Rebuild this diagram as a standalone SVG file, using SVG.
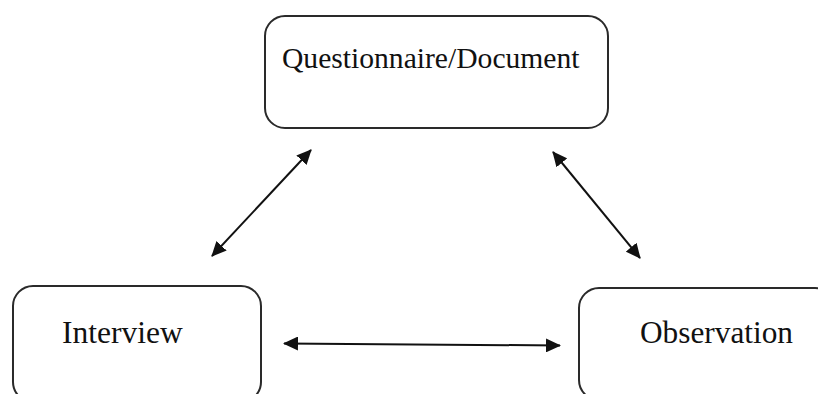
<svg xmlns="http://www.w3.org/2000/svg" width="818" height="394" viewBox="0 0 818 394">
<defs>
<style>
.box{fill:#fff;stroke:#2a2a2a;stroke-width:2}
.lbl{font-family:"Liberation Serif","Times New Roman",serif;fill:#111}
.conn{stroke:#111;stroke-width:2;fill:none;marker-start:url(#ah);marker-end:url(#ah)}
</style>
<marker id="ah" viewBox="0 0 15 14" refX="14" refY="7" markerWidth="15" markerHeight="14" markerUnits="userSpaceOnUse" orient="auto-start-reverse">
<path d="M0,0 L15,7 L0,14 Z" fill="#111"/>
</marker>
</defs>
<rect width="818" height="394" fill="#fff"/>
<g id="questionnaire">
<rect class="box" x="265" y="16" width="343" height="112" rx="20"/>
<text class="lbl" x="282" y="68" font-size="29.6">Questionnaire/Document</text>
</g>
<g id="interview">
<rect class="box" x="13" y="286" width="248" height="116" rx="20"/>
<text class="lbl" x="62" y="343" font-size="31.5">Interview</text>
</g>
<g id="observation">
<rect class="box" x="579" y="288" width="256" height="112" rx="20"/>
<text class="lbl" x="640" y="343" font-size="31.3">Observation</text>
</g>
<g id="connectors">
<line class="conn" x1="212" y1="256" x2="311" y2="150"/>
<line class="conn" x1="553" y1="152" x2="640" y2="258"/>
<line class="conn" x1="284" y1="343.5" x2="560" y2="345.5"/>
</g>
</svg>
